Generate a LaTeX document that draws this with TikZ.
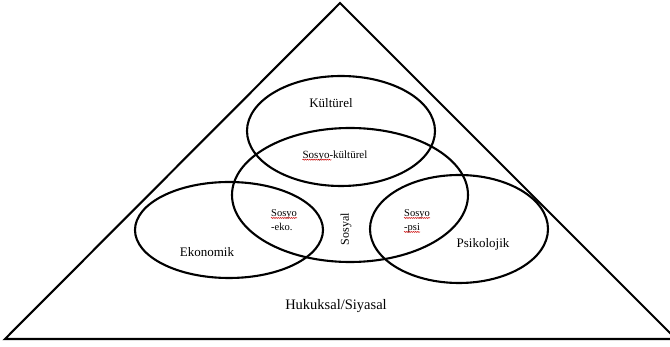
\documentclass[tikz,border=0pt]{standalone}
\usepackage{fontspec}
\setmainfont{Liberation Serif}
\usetikzlibrary{shapes.geometric,decorations.pathmorphing}
\begin{document}
\begin{tikzpicture}[x=1pt,y=-1pt,
  ring/.style={draw, ellipse, line width=2.1pt, inner sep=0pt},
  lbl/.style={inner sep=0pt, font=\fontsize{13}{15}\selectfont},
  small/.style={inner sep=0pt, font=\fontsize{10.5}{12}\selectfont},
  squiggle/.style={red!80!black, line width=0.5pt,
    decorate, decoration={snake, amplitude=0.5pt, segment length=2.2pt}}]
\useasboundingbox (0,0) rectangle (670,347);
\clip (0,0) rectangle (670,347);

% outer triangle
\coordinate (apex) at (340,3);
\coordinate (bl) at (5,339);
\coordinate (br) at (676,339);
\draw[line width=2.1pt, line join=miter] (bl) -- (apex) -- (br) -- cycle;

% overlapping rings
\node[ring, minimum width=188pt, minimum height=110pt] (kult) at (341,131) {};
\node[ring, minimum width=236pt, minimum height=134pt] (sos)  at (350,195) {};
\node[ring, minimum width=188pt, minimum height=96pt]  (eko)  at (229,230) {};
\node[ring, minimum width=178pt, minimum height=108pt] (psi)  at (459,229) {};

% labels
\node[lbl] (tkult) at (331,103) {Kültürel};
\node[small, font=\fontsize{11}{13}\selectfont] (tsk) at (335,156) {Sosyo-kültürel};
\node[lbl] (teko) at (207,252) {Ekonomik};
\node[lbl] (tpsi) at (483,244) {Psikolojik};
\node[lbl, font=\fontsize{14.5}{17}\selectfont] (thuk) at (336,306) {Hukuksal/Siyasal};
\node[small, rotate=90, font=\fontsize{12}{14}\selectfont] (tsos) at (346,229) {Sosyal};
\node[small, anchor=base west] (tse1) at (271,217) {Sosyo};
\node[small, anchor=base west] (tse2) at (271,231) {-eko.};
\node[small, anchor=base west] (tsp1) at (404,217) {Sosyo};
\node[small, anchor=base west] (tsp2) at (404,231) {-psi};

% spell-check marks under the compound prefixes
\draw[squiggle] ([yshift=1.5pt]tsk.south west) -- ++(29,0);
\draw[squiggle] ([yshift=1.5pt]tse1.south west) -- ([yshift=1.5pt]tse1.south east);
\draw[squiggle] ([yshift=1.5pt]tsp1.south west) -- ([yshift=1.5pt]tsp1.south east);
\draw[squiggle] ([yshift=1.5pt]tsp2.south west) -- ([yshift=1.5pt]tsp2.south east);
\end{tikzpicture}
\end{document}
